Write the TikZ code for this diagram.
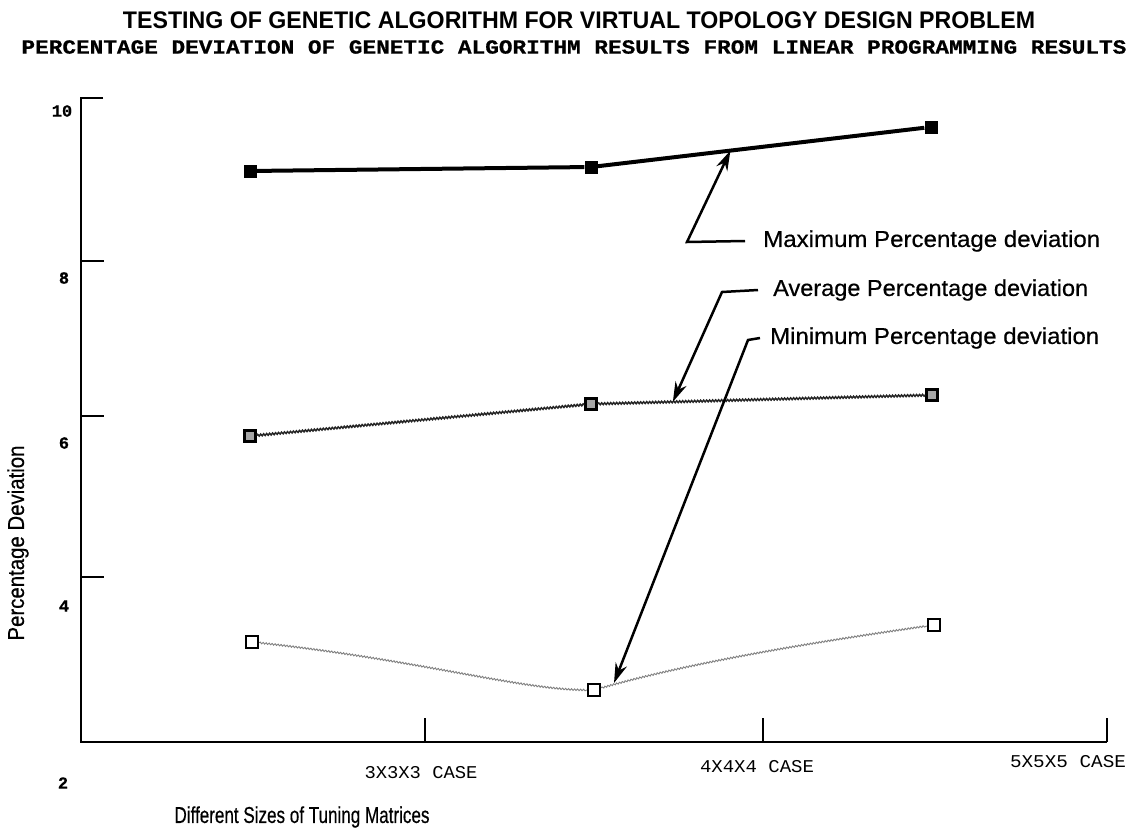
\documentclass[tikz,border=0pt]{standalone}
\usepackage{fontspec}
\setmainfont{Liberation Sans}
\setmonofont{Liberation Mono}
\newfontfamily\labelfont{Liberation Sans}[FakeBold=0.5]
\newfontfamily\heavymono{Liberation Mono Bold}[FakeBold=0.6]
\usepackage{graphicx}
\usetikzlibrary{arrows.meta,decorations.pathmorphing,calc}
% stretch a text horizontally to a given width, keeping its height
\newcommand{\fitto}[2]{\resizebox{#1}{\height}{#2}}

\begin{document}
\begin{tikzpicture}[x=1pt,y=-1pt,
  axisline/.style={line width=2.5pt},
  maxline/.style={line width=4pt},
  avgline/.style={line width=1.5pt, black!85, decorate,
    decoration={snake, amplitude=0.9pt, segment length=3pt}},
  minline/.style={line width=0.9pt, black!50, decorate,
    decoration={snake, amplitude=0.8pt, segment length=3pt}},
  maxpt/.style={rectangle, fill=black, minimum size=13pt, inner sep=0pt},
  avgpt/.style={rectangle, draw=black, line width=2.5pt, fill=black!35,
    minimum size=11pt, inner sep=0pt},
  minpt/.style={rectangle, draw=black, line width=2.5pt, fill=white,
    minimum size=12pt, inner sep=0pt},
  pointer/.style={line width=2.5pt, -{Stealth[length=20pt,width=12pt]}},
  ticklbl/.style={font=\heavymono\fontsize{17}{20}\selectfont, inner sep=0pt},
  catlbl/.style={font=\ttfamily\fontsize{18}{21}\selectfont, inner sep=0pt},
  legend/.style={font=\labelfont\fontsize{23}{27}\selectfont, anchor=west, inner sep=0pt},
  axistitle/.style={font=\labelfont\fontsize{23}{27}\selectfont, inner sep=0pt}
]
\useasboundingbox (0,0) rectangle (1129,835);

% titles
\node[inner sep=0pt, font=\bfseries\fontsize{24}{28}\selectfont] (title) at (579,20)
  {\fitto{912pt}{TESTING OF GENETIC ALGORITHM FOR VIRTUAL TOPOLOGY DESIGN PROBLEM}};
\node[inner sep=0pt, font=\heavymono\fontsize{20}{24}\selectfont] (subtitle) at (574,47)
  {\fitto{1105pt}{PERCENTAGE DEVIATION OF GENETIC ALGORITHM RESULTS FROM LINEAR PROGRAMMING RESULTS}};

% axes
\coordinate (origin) at (81,742);
\coordinate (ytop) at (81,98);
\coordinate (xend) at (1107,742);
\draw[axisline] (103,98) -- (ytop) -- (origin) -- (xend);
\foreach \yy in {261,416,577}
  \draw[axisline] (81,\yy) -- (104,\yy);
\foreach \xx in {425,763,1107}
  \draw[axisline] (\xx,742) -- (\xx,718);

% tick labels
\node[ticklbl] (y10) at (62,111) {10};
\node[ticklbl] (y8) at (64,278) {8};
\node[ticklbl] (y6) at (64,443) {6};
\node[ticklbl] (y4) at (64,606) {4};
\node[ticklbl] (y2) at (63,783) {2};

\node[catlbl] (c3) at (421,773) {\fitto{113pt}{3X3X3 CASE}};
\node[catlbl] (c4) at (757,767) {\fitto{114pt}{4X4X4 CASE}};
\node[catlbl] (c5) at (1068,762) {\fitto{116pt}{5X5X5 CASE}};

% axis titles
\node[axistitle] (xtitle) at (302,817) {\fitto{255pt}{Different Sizes of Tuning Matrices}};
\node[axistitle, rotate=90] (ytitle) at (18,543) {\fitto{195pt}{Percentage Deviation}};

% data markers
\node[maxpt] (M1) at (250,171) {};
\node[maxpt] (M2) at (591,167) {};
\node[maxpt] (M3) at (931,127) {};
\node[avgpt] (A1) at (250,436) {};
\node[avgpt] (A2) at (591,404) {};
\node[avgpt] (A3) at (932,395) {};
\node[minpt] (N1) at (252,642) {};
\node[minpt] (N2) at (594,690) {};
\node[minpt] (N3) at (934,625) {};

% series lines
\draw[maxline] (M1) -- (M2) -- (M3);
\draw[avgline] (A1) -- (A2);
\draw[avgline] (A2) -- (A3);
\draw[minline] (N1) .. controls (420,660) and (520,690) .. (N2);
\draw[minline] (N2) .. controls (700,660) and (830,640) .. (N3);

% legend labels
\node[legend] (LMax) at (763,241) {\fitto{337pt}{Maximum Percentage deviation}};
\node[legend] (LAvg) at (773,290) {\fitto{315pt}{Average Percentage deviation}};
\node[legend] (LMin) at (770,338) {\fitto{329pt}{Minimum Percentage deviation}};

% pointers from labels to curves
\coordinate (tMax) at ($(M2)!0.41!(M3)$);
\coordinate (tAvg) at ($(A2)!0.24!(A3)$);
\coordinate (tMin) at (614,683);
\coordinate (kMax) at (687,242);
\coordinate (kAvg) at (722,292);
\coordinate (kMin) at (748,340);
\draw[pointer] ([xshift=-18pt]LMax.west) -- (kMax) -- (tMax);
\draw[pointer] ([xshift=-15pt]LAvg.west) -- (kAvg) -- (tAvg);
\draw[pointer] ([xshift=-10pt]LMin.west) -- (kMin) -- (tMin);
\end{tikzpicture}
\end{document}
